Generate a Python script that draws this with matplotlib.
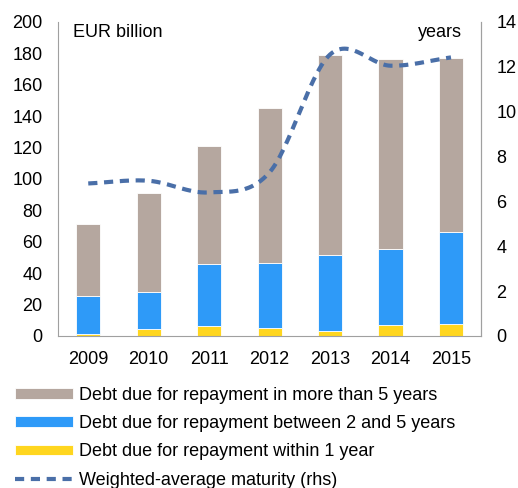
import numpy as np
import matplotlib
matplotlib.use('Agg')
import matplotlib.pyplot as plt

plt.rcParams['font.family'] = ['Liberation Sans', 'DejaVu Sans']

# 데이터
years = ['2009', '2010', '2011', '2012', '2013', '2014', '2015']
within_1 = [1, 4.5, 6.4, 4.9, 3, 7, 7.8]
between_2_5 = [24.7, 23.7, 39.5, 41.8, 48.8, 48.6, 58.2]
more_5 = [45.6, 62.7, 75.1, 98.3, 127.2, 120.8, 111.3]
maturity = [6.8, 6.92, 6.4, 7.3, 12.55, 12.05, 12.42]

c_more = '#b5a79f'
c_mid = '#2e9af8'
c_low = '#ffd61f'
c_line = '#4a6fa8'


def smooth(xs, ys, n=30):
    # Catmull-Rom 보간 (엑셀 스무딩 선과 비슷하게)
    xs = np.asarray(xs, float)
    ys = np.asarray(ys, float)
    px = np.concatenate([[2 * xs[0] - xs[1]], xs, [2 * xs[-1] - xs[-2]]])
    py = np.concatenate([[2 * ys[0] - ys[1]], ys, [2 * ys[-1] - ys[-2]]])
    ox, oy = [], []
    for i in range(1, len(px) - 2):
        t = np.linspace(0, 1, n)
        for p, o in ((px, ox), (py, oy)):
            p0, p1, p2, p3 = p[i - 1], p[i], p[i + 1], p[i + 2]
            o.extend(0.5 * ((2 * p1) + (-p0 + p2) * t
                            + (2 * p0 - 5 * p1 + 4 * p2 - p3) * t ** 2
                            + (-p0 + 3 * p1 - 3 * p2 + p3) * t ** 3))
    return np.array(ox), np.array(oy)


fig = plt.figure(figsize=(5.18, 4.88), dpi=100)
ax = fig.add_axes([0.112, 0.3115, 0.817, 0.6435])
x = np.arange(len(years))
w = 0.4

b1 = ax.bar(x, within_1, w, color=c_low, edgecolor='white', linewidth=0.6)
b2 = ax.bar(x, between_2_5, w, bottom=within_1, color=c_mid, edgecolor='white', linewidth=0.6)
bot2 = np.array(within_1) + np.array(between_2_5)
b3 = ax.bar(x, more_5, w, bottom=bot2, color=c_more, edgecolor='white', linewidth=0.6)

ax.set_xlim(-0.5, 6.5)
ax.set_ylim(0, 200)
ax.set_yticks(range(0, 201, 20))
ax.set_xticks(x)
ax.set_xticklabels(years)
ax.tick_params(length=0, labelsize=13, pad=11)
ax.tick_params(axis='x', pad=11)
ax.spines['top'].set_visible(False)
for s in ['left', 'bottom', 'right']:
    ax.spines[s].set_color('#a0a0a0')

ax2 = ax.twinx()
sx, sy = smooth(x, maturity)
ln, = ax2.plot(sx, sy, color=c_line, linewidth=3, dashes=(2.2, 1.6))
ax2.set_ylim(0, 14)
ax2.set_yticks(range(0, 15, 2))
ax2.tick_params(length=0, labelsize=13, pad=11)
ax2.spines['top'].set_visible(False)
ax2.spines['right'].set_color('#a0a0a0')
ax2.spines['left'].set_visible(False)
ax2.spines['bottom'].set_visible(False)

ax.text(0.035, 0.995, 'EUR billion', transform=ax.transAxes, fontsize=13, va='top', ha='left')
ax.text(0.955, 0.995, 'years', transform=ax.transAxes, fontsize=13, va='top', ha='right')

fig.legend([b3, b2, b1, ln],
           ['Debt due for repayment in more than 5 years',
            'Debt due for repayment between 2 and 5 years',
            'Debt due for repayment within 1 year',
            'Weighted-average maturity (rhs)'],
           loc='upper left', bbox_to_anchor=(0.029, 0.207), frameon=False,
           fontsize=13, handlelength=3.2, handleheight=0.55, handletextpad=0.33,
           labelspacing=0.62, borderaxespad=0, borderpad=0)

fig.savefig('out.png', dpi=100)
